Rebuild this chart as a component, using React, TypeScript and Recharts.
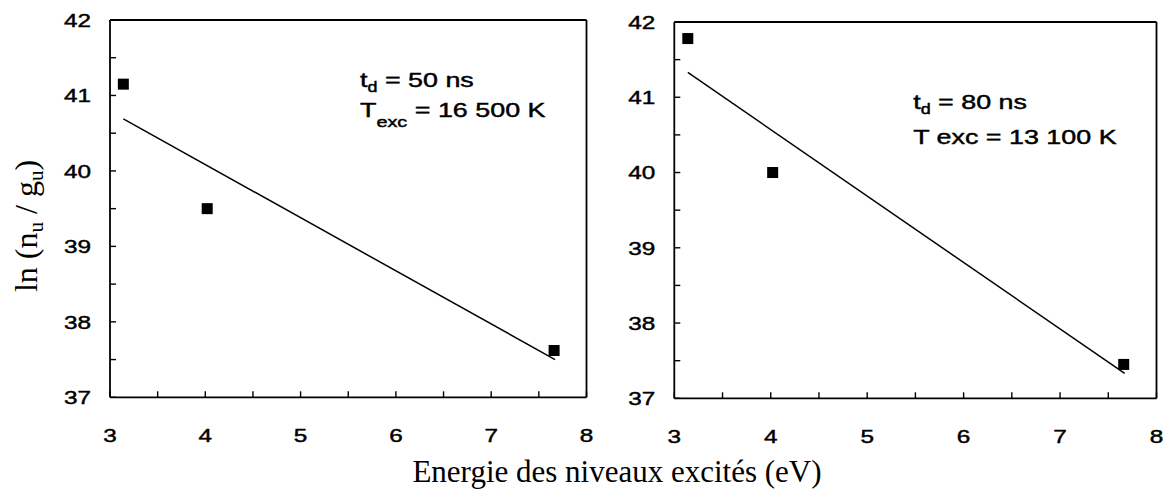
import React from 'react';
import { ScatterChart, Scatter, XAxis, YAxis, ReferenceLine } from 'recharts';

// ---- data ----
const xTicks = [3, 3.5, 4, 4.5, 5, 5.5, 6, 6.5, 7, 7.5, 8];
const yTicks = [37, 37.5, 38, 38.5, 39, 39.5, 40, 40.5, 41, 41.5, 42];

const energies = [3.14, 4.02, 7.66];
const lnLeft = [41.15, 39.5, 37.62];
const lnRight = [41.78, 40.0, 37.45];

const fitX = [3.14, 7.67];
const fitLeft = [40.69, 37.5];
const fitRight = [41.33, 37.33];

const pts = (xs: number[], ys: number[]) => xs.map((x, i) => ({ x, y: ys[i] }));

const SANS = "'Liberation Sans', Arial, Helvetica, sans-serif";
const SERIF = "'Liberation Serif', 'Times New Roman', Times, serif";
const STRETCH = 1.28;
const THICK = { stroke: '#000', strokeWidth: 0.45 };

const YTick = (props: any) => {
  const { x, y, payload } = props;
  const v = payload.value as number;
  const major = Number.isInteger(v);
  return (
    <g>
      <line x1={x} x2={x + 6} y1={y} y2={y} stroke="#000" strokeWidth={1.4} />
      {major && (
        <text
          transform={`translate(${x - 19},${y + 6.8}) scale(${STRETCH},1)`}
          textAnchor="end"
          fontFamily={SANS}
          fontSize={19}
          fill="#000"
          {...THICK}
        >
          {v}
        </text>
      )}
    </g>
  );
};

const XTick = (props: any) => {
  const { x, y, payload } = props;
  const v = payload.value as number;
  const major = Number.isInteger(v);
  return (
    <g>
      <line x1={x} x2={x} y1={y} y2={y - 6} stroke="#000" strokeWidth={1.4} />
      {major && (
        <text
          transform={`translate(${x},${y + 44.4}) scale(${STRETCH},1)`}
          textAnchor="middle"
          fontFamily={SANS}
          fontSize={19}
          fill="#000"
          {...THICK}
        >
          {v}
        </text>
      )}
    </g>
  );
};

const Square = (props: any) => {
  const { cx, cy } = props;
  return <rect x={cx - 5.5} y={cy - 5.5} width={11} height={11} fill="#000" />;
};

const NoShape = () => <g />;

type PanelProps = {
  points: { x: number; y: number }[];
  fit: { x: number; y: number }[];
  margin: { top: number; right: number; bottom: number; left: number };
  width: number;
};

const Panel = ({ points, fit, margin, width }: PanelProps) => (
  <ScatterChart width={width} height={489} margin={margin}>
    <XAxis
      type="number"
      dataKey="x"
      domain={[3, 8]}
      ticks={xTicks}
      interval={0}
      allowDataOverflow
      tickSize={0}
      tickMargin={0}
      tickLine={false}
      tick={<XTick />}
      axisLine={{ stroke: '#000', strokeWidth: 1.8 }}
      height={30}
    />
    <YAxis
      type="number"
      dataKey="y"
      domain={[37, 42]}
      ticks={yTicks}
      interval={0}
      allowDataOverflow
      tickSize={0}
      tickMargin={0}
      tickLine={false}
      tick={<YTick />}
      axisLine={{ stroke: '#000', strokeWidth: 1.8 }}
      width={60}
    />
    <ReferenceLine y={42} stroke="#000" strokeWidth={1.8} />
    <ReferenceLine x={8} stroke="#000" strokeWidth={1.8} />
    <Scatter
      data={fit}
      line={{ stroke: '#000', strokeWidth: 1.5 }}
      shape={NoShape}
      isAnimationActive={false}
      legendType="none"
    />
    <Scatter data={points} shape={Square} isAnimationActive={false} legendType="none" />
  </ScatterChart>
);

export default function App() {
  return (
    <div style={{ position: 'absolute', left: 0, top: 0, width: 1165, height: 489, background: '#fff' }}>
      <div style={{ position: 'absolute', left: 0, top: 0 }}>
        <Panel
          width={600}
          points={pts(energies, lnLeft)}
          fit={pts(fitX, fitLeft)}
          margin={{ top: 20, right: 13.5, bottom: 61.7, left: 50 }}
        />
      </div>
      <div style={{ position: 'absolute', left: 580, top: 0 }}>
        <Panel
          width={585}
          points={pts(energies, lnRight)}
          fit={pts(fitX, fitRight)}
          margin={{ top: 22, right: 8.5, bottom: 60.7, left: 34.3 }}
        />
      </div>
      <svg
        width={1165}
        height={489}
        style={{ position: 'absolute', left: 0, top: 0, pointerEvents: 'none' }}
      >
        <text
          transform="translate(37,226) rotate(-90)"
          textAnchor="middle"
          fontFamily={SERIF}
          fontSize={32}
          fill="#000"
        >
          ln (n<tspan fontSize={21} dy={6}>u</tspan>
          <tspan dy={-6}> / g</tspan>
          <tspan fontSize={21} dy={6}>u</tspan>
          <tspan dy={-6}>)</tspan>
        </text>
        <text x={617} y={481.5} textAnchor="middle" fontFamily={SERIF} fontSize={31} fill="#000">
          Energie des niveaux excités (eV)
        </text>

        <g transform={`translate(360,86.7) scale(${STRETCH},1)`}>
          <text x={0} y={0} fontFamily={SANS} fontSize={21} fill="#000" {...THICK}>
            t<tspan fontSize={14} dy={5}>d</tspan>
            <tspan dy={-5}> = 50 ns</tspan>
          </text>
        </g>
        <g transform={`translate(360,116.5) scale(${STRETCH},1)`}>
          <text x={0} y={0} fontFamily={SANS} fontSize={21} fill="#000" {...THICK}>
            T<tspan fontSize={15.5} dy={10}>exc</tspan>
            <tspan dy={-10}> = 16 500 K</tspan>
          </text>
        </g>

        <g transform={`translate(913.2,108.5) scale(${STRETCH},1)`}>
          <text x={0} y={0} fontFamily={SANS} fontSize={21} fill="#000" {...THICK}>
            t<tspan fontSize={14} dy={5}>d</tspan>
            <tspan dy={-5}> = 80 ns</tspan>
          </text>
        </g>
        <g transform={`translate(913.2,143.5) scale(${STRETCH},1)`}>
          <text x={0} y={0} fontFamily={SANS} fontSize={21} fill="#000" {...THICK}>
            T exc = 13 100 K
          </text>
        </g>
      </svg>
    </div>
  );
}
